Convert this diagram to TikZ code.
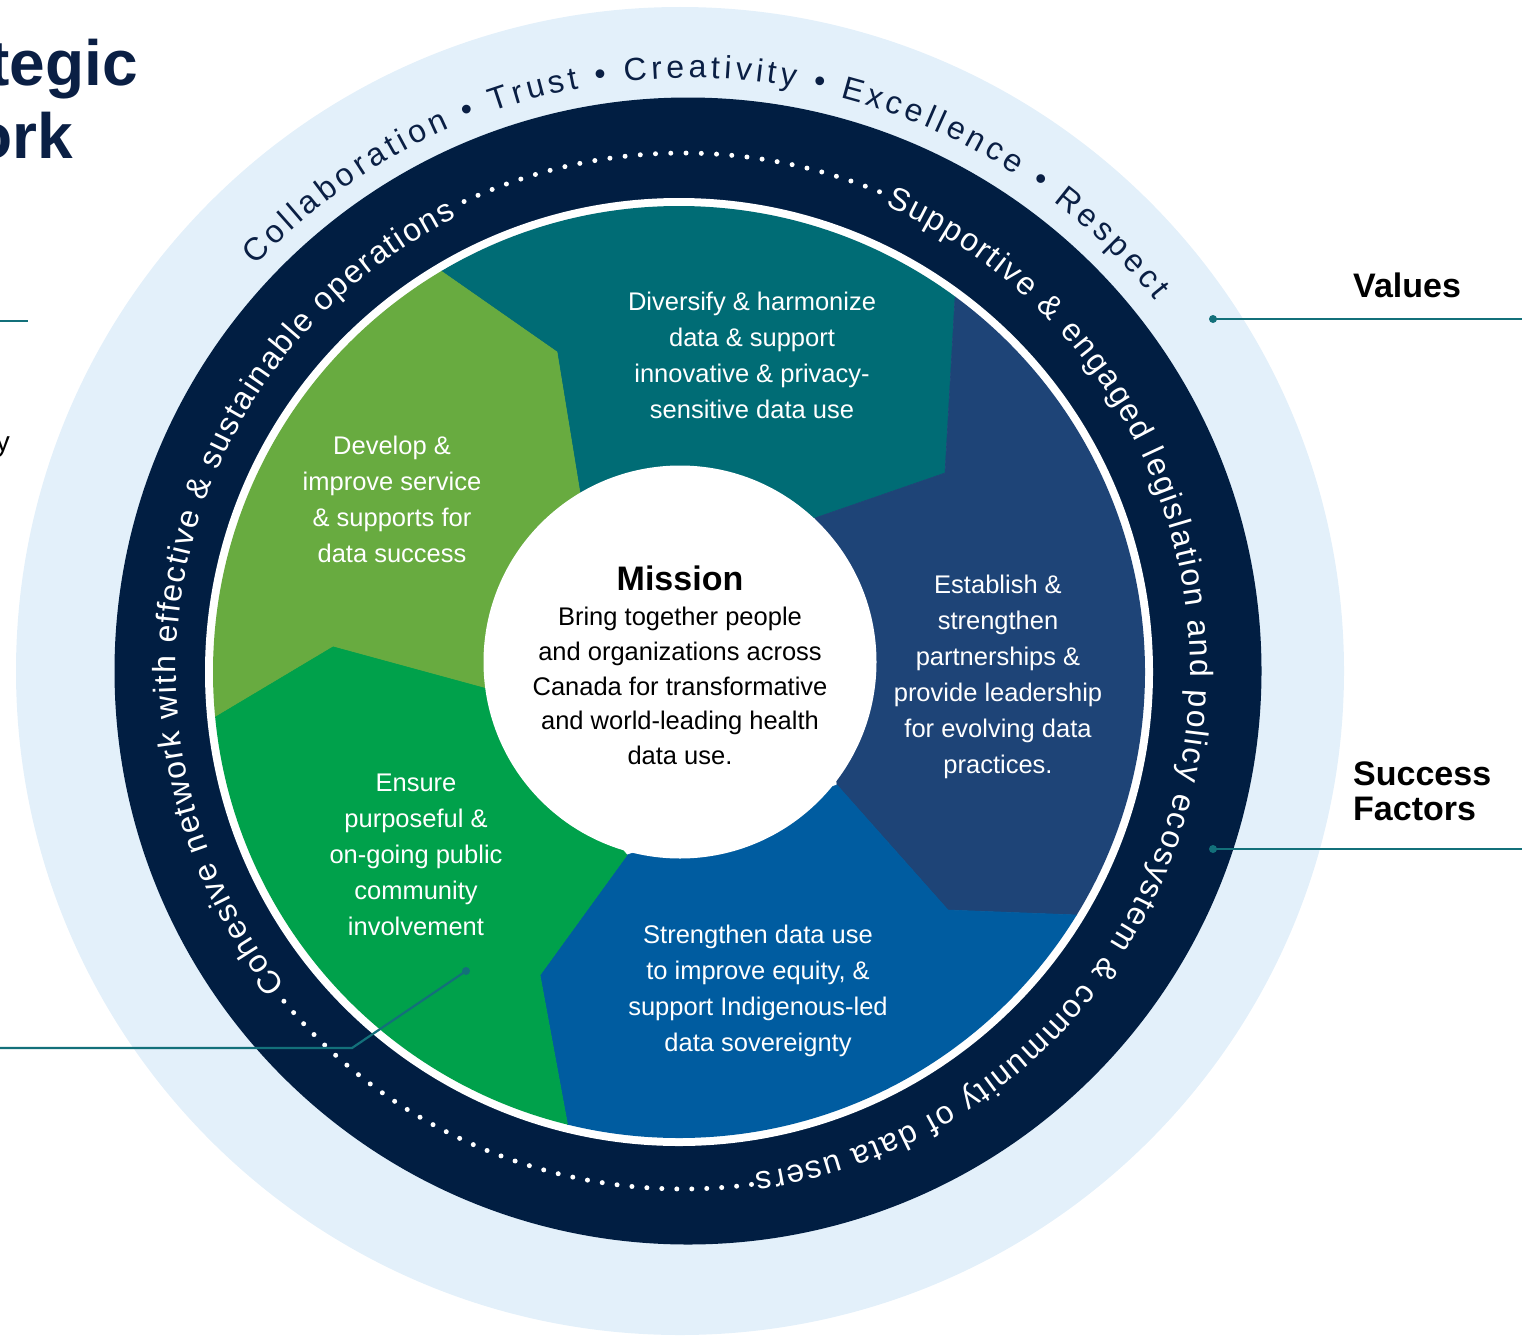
\documentclass[tikz,border=0pt]{standalone}
\usepackage{fontspec}
\setmainfont{Liberation Sans}
\usetikzlibrary{calc,decorations.text}
\definecolor{lightbg}{HTML}{E3F0FA}
\definecolor{navyring}{HTML}{011E42}
\definecolor{tealseg}{HTML}{006C75}
\definecolor{navyseg}{HTML}{1E4477}
\definecolor{blueseg}{HTML}{005CA0}
\definecolor{greenseg}{HTML}{00A14B}
\definecolor{lgreenseg}{HTML}{68AB40}
\definecolor{calloutc}{HTML}{13707A}
\definecolor{titlenavy}{HTML}{0A1F44}
\newcommand{\ringfont}{\fontsize{32}{32}\selectfont\color{white}}
\newcommand{\valfont}{\fontsize{32}{32}\selectfont\color{titlenavy}}
\begin{document}
\begin{tikzpicture}[x=1pt,y=1pt,
  segtext/.style={text=white, align=center, font=\fontsize{25.5}{36}\selectfont, inner sep=0pt},
  calloutline/.style={draw=calloutc, line width=2.2pt},
  calldot/.style={fill=calloutc, circle, inner sep=0pt, minimum size=8pt},
  label/.style={font=\fontsize{34}{35}\selectfont\bfseries, text=black, inner sep=0pt, align=left},
  ringtext/.style={decorate, decoration={text along path, text align={fit to path}, text={#1}}},
  dots/.style={white, line width=5pt, line cap=round, dash pattern=on 0pt off #1}
]
\useasboundingbox (0,0) rectangle (1522,-1338);
\clip (0,0) rectangle (1522,-1338);

% rings
\fill[lightbg] (680,-671) circle[radius=664];
\fill[navyring] (688,-671) circle[radius=573.5];
\fill[white] (679,-672) circle[radius=474];

% segment geometry
\coordinate (O) at (679,-672);
\coordinate (m1) at (580,-493);  \coordinate (k1) at (557,-352);  \coordinate (P1) at (441,-271);
\coordinate (m2) at (815,-518);  \coordinate (k2) at (945,-473);  \coordinate (P2) at (955,-298);
\coordinate (m3) at (837,-785);  \coordinate (k3) at (948,-910);  \coordinate (P3) at (1078,-915);
\coordinate (m4) at (627,-855);  \coordinate (k4) at (540,-975);  \coordinate (P4) at (568,-1127);
\coordinate (m5) at (487,-688);  \coordinate (k5) at (333,-646);  \coordinate (P5) at (214,-717);
\foreach \i in {1,...,5} {\coordinate (F\i) at ($(O)!2.2!(P\i)$);}

\begin{scope}
  \clip (O) circle[radius=466];
  \filldraw[tealseg, line width=0.6pt] (m1) -- (k1) -- (P1) -- (F1) -- (F2) -- (P2) -- (k2) -- (m2) -- cycle;
  \filldraw[navyseg, line width=0.6pt] (m2) -- (k2) -- (P2) -- (F2) -- (F3) -- (P3) -- (k3) -- (m3) -- cycle;
  \filldraw[blueseg, line width=0.6pt] (m3) -- (k3) -- (P3) -- (F3) -- (F4) -- (P4) -- (k4) -- (m4) -- cycle;
  \filldraw[greenseg, line width=0.6pt] (m4) -- (k4) -- (P4) -- (F4) -- (F5) -- (P5) -- (k5) -- (m5) -- cycle;
  \filldraw[lgreenseg, line width=0.6pt] (m5) -- (k5) -- (P5) -- (F5) -- (F1) -- (P1) -- (k1) -- (m1) -- cycle;
\end{scope}

% mission
\node[circle, fill=white, minimum size=393pt, inner sep=0pt] (mission) at (680,-662) {};
\node[font=\fontsize{34}{34}\selectfont\bfseries, inner sep=0pt] (missiontitle) at (680,-578) {Mission};
\node[align=center, font=\fontsize{25.5}{34.6}\selectfont, inner sep=0pt] (missiontext) at (680,-686)
  {Bring together people\\and organizations across\\Canada for transformative\\and world-leading health\\data use.};

% segment texts
\node[segtext] (divers) at (752,-355) {Diversify \& harmonize\\data \& support\\innovative \& privacy-\\sensitive data use};
\node[segtext] (develop) at (392,-499) {Develop \&\\improve service\\\& supports for\\data success};
\node[segtext] (establish) at (998,-677) {Establish \&\\strengthen\\partnerships \&\\provide leadership\\for evolving data\\practices.};
\node[segtext] (ensure) at (416,-855) {Ensure\\purposeful \&\\on-going public\\community\\involvement};
\node[segtext] (strengthen) at (758,-991) {Strengthen data use\\to improve equity, \&\\support Indigenous-led\\data sovereignty};

% ring texts
\coordinate (T) at (683,-671);
\path[ringtext={|\ringfont|Cohesive network with effective {\&} sustainable operations}]
  ($(T)+(218.4:507)$) arc[start angle=218.4, end angle=116.5, radius=507];
\path[ringtext={|\ringfont|Supportive {\&} engaged legislation and policy ecosystem {\&} community of data users}]
  ($(T)+(66.5:507)$) arc[start angle=66.5, end angle=-81.8, radius=507];
\draw[dots=15.27pt] ($(T)+(115:518)$) arc[start angle=115, end angle=67.7, radius=518];
\draw[dots=14.98pt] ($(T)+(-82.4:518)$) arc[start angle=-82.4, end angle=-140.4, radius=518];

% values text
\coordinate (V) at (690,-675);
\path[ringtext={|\valfont|Collaboration • Trust • Creativity • Excellence • Respect}]
  ($(V)+(136.7:597)$) arc[start angle=136.7, end angle=38.9, radius=597];

% title fragments
\node[anchor=base east, font=\fontsize{64}{64}\selectfont\bfseries, text=titlenavy, inner sep=0pt] (title1) at (138,-85) {tegic};
\node[anchor=base east, font=\fontsize{64}{64}\selectfont\bfseries, text=titlenavy, inner sep=0pt] (title2) at (73,-158) {ork};
\node[anchor=base east, font=\fontsize{28}{28}\selectfont, inner sep=0pt] (yfrag) at (10,-451) {y};

% labels
\node[label, anchor=base west] (values) at (1353,-297) {Values};
\node[label, anchor=north west] (success) at (1353,-762) {Success\\Factors};

% callouts
\node[calldot] (dv) at (1213,-319) {};
\coordinate (ev) at (1522,-319);
\draw[calloutline] (dv.center) -- (ev);
\node[calldot] (ds) at (1213,-849) {};
\coordinate (es) at (1522,-849);
\draw[calloutline] (ds.center) -- (es);
\node[calldot] (de) at (466,-971) {};
\coordinate (be) at (352,-1048);
\coordinate (ee) at (0,-1048);
\draw[calloutline] (de.center) -- (be) -- (ee);
\coordinate (lt1) at (0,-321);
\coordinate (lt2) at (28,-321);
\draw[calloutline] (lt1) -- (lt2);
\end{tikzpicture}
\end{document}
